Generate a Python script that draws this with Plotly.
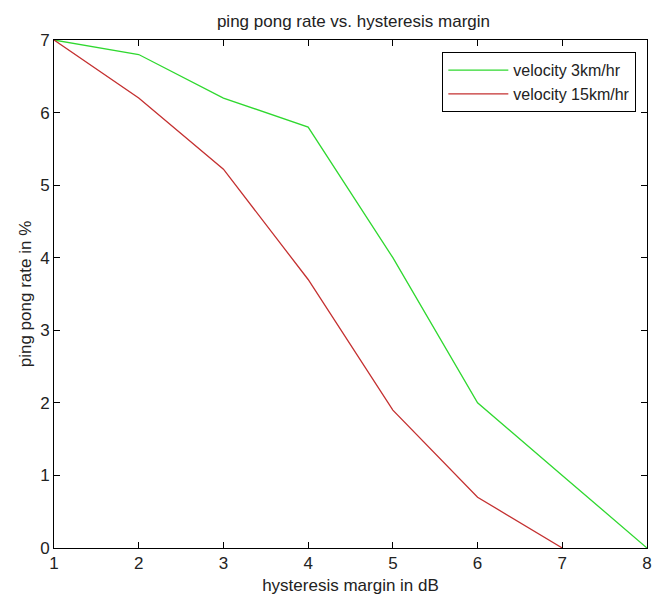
import plotly.graph_objects as go

# hysteresis margin (dB)
margin_db = [1, 2, 3, 4, 5, 6, 7, 8]
margin_db_fast = [1, 2, 3, 4, 5, 6, 7]

# ping pong rate (%) per velocity
rate_3kmh = [7.0, 6.8, 6.2, 5.8, 4.0, 2.0, 1.0, 0.0]
rate_15kmh = [7.0, 6.2, 5.22, 3.7, 1.9, 0.7, 0.0]

x_ticks = [1, 2, 3, 4, 5, 6, 7, 8]
y_ticks = [0, 1, 2, 3, 4, 5, 6, 7]

FONT = "Liberation Sans, Arial, sans-serif"
TXT = "#222222"

fig = go.Figure()
fig.add_trace(go.Scatter(x=margin_db, y=rate_3kmh, mode="lines",
                         name="velocity 3km/hr",
                         line=dict(color="#2fd82f", width=1.3)))
fig.add_trace(go.Scatter(x=margin_db_fast, y=rate_15kmh, mode="lines",
                         name="velocity 15km/hr",
                         line=dict(color="#c43030", width=1.3)))

axis_common = dict(showline=True, linecolor="black", linewidth=1,
                   mirror="ticks", ticks="inside", ticklen=6,
                   tickcolor="black", showgrid=False, zeroline=False,
                   ticklabeloverflow="allow",
                   tickfont=dict(family=FONT, size=17, color=TXT))

fig.update_layout(
    width=657, height=603,
    margin=dict(l=54, r=5, t=40, b=55),
    paper_bgcolor="white", plot_bgcolor="white",
    title=dict(text="ping pong rate vs. hysteresis margin",
               x=0.538, xanchor="center", y=0.965, yanchor="middle",
               font=dict(family=FONT, size=17, color=TXT)),
    xaxis=dict(range=[1, 8], tickvals=x_ticks,
               title=dict(text="hysteresis margin in dB", standoff=6,
                          font=dict(family=FONT, size=17, color=TXT)),
               **axis_common),
    yaxis=dict(range=[0, 7], tickvals=y_ticks,
               title=dict(text="ping pong rate in %", standoff=4,
                          font=dict(family=FONT, size=17, color=TXT)),
               **axis_common),
    legend=dict(x=0.982, y=0.976, xanchor="right", yanchor="top",
                bgcolor="white", bordercolor="black", borderwidth=1,
                itemwidth=60, tracegroupgap=0,
                font=dict(family=FONT, size=16, color=TXT)),
)

fig.write_html("out.html")
